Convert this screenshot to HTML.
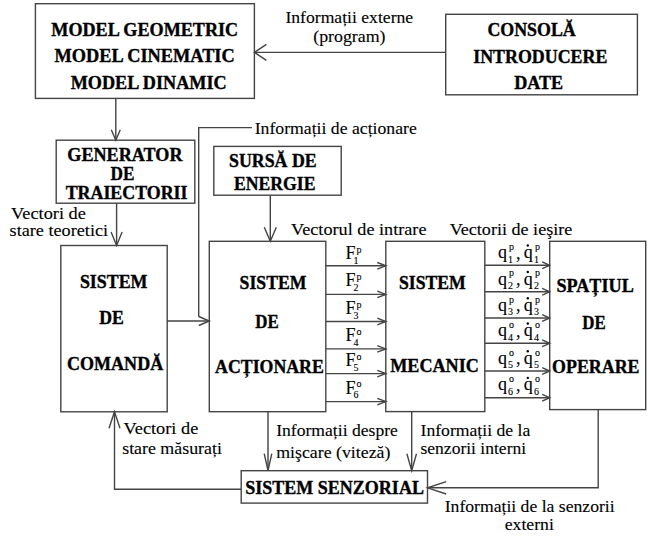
<!DOCTYPE html>
<html><head><meta charset="utf-8"><style>
html,body{margin:0;padding:0;background:#fff;}
svg{display:block;}
</style></head><body>
<svg width="649" height="538" viewBox="0 0 649 538">
<rect x="0" y="0" width="649" height="538" fill="#fff"/>
<g fill="none" stroke="#444" stroke-width="1.4" stroke-linejoin="miter" stroke-linecap="butt">
<rect x="35.4" y="3.7" width="219.00" height="94.70"/>
<rect x="445.7" y="14.3" width="191.70" height="80.50"/>
<rect x="56.2" y="140.2" width="138.60" height="63.00"/>
<rect x="213.8" y="146.4" width="127.40" height="48.80"/>
<rect x="60.8" y="245.5" width="106.40" height="166.30"/>
<rect x="209.3" y="241.3" width="116.50" height="170.40"/>
<rect x="385.8" y="241.3" width="99.00" height="170.30"/>
<rect x="549.7" y="241.3" width="96.00" height="168.30"/>
<rect x="241.2" y="470.7" width="186.30" height="32.40"/>
<line x1="445.7" y1="52.4" x2="254.4" y2="52.4"/>
<polyline points="266.4,44.4 254.4,52.4 266.4,60.4"/>
<line x1="115.8" y1="98.4" x2="115.8" y2="140.2"/>
<polyline points="111.3,129.7 115.8,140.2 120.3,129.7"/>
<line x1="116.6" y1="203.2" x2="116.6" y2="245.5"/>
<polyline points="111.1,232.0 116.6,245.5 122.1,232.0"/>
<polyline points="252,127.6 198.7,127.6 198.7,316.7"/>
<line x1="167.2" y1="321.0" x2="209.3" y2="321.0"/>
<polyline points="198.8,325.5 209.3,321.0 198.8,316.5"/>
<line x1="270.3" y1="195.2" x2="270.3" y2="241.3"/>
<polyline points="264.3,227.3 270.3,241.3 276.3,227.3"/>
<line x1="325.8" y1="265.8" x2="385.8" y2="265.8"/>
<polyline points="377.3,269.1 385.8,265.8 377.3,262.5"/>
<line x1="325.8" y1="294.4" x2="385.8" y2="294.4"/>
<polyline points="377.3,297.7 385.8,294.4 377.3,291.1"/>
<line x1="325.8" y1="321.5" x2="385.8" y2="321.5"/>
<polyline points="377.3,324.8 385.8,321.5 377.3,318.2"/>
<line x1="325.8" y1="348.9" x2="385.8" y2="348.9"/>
<polyline points="377.3,352.2 385.8,348.9 377.3,345.6"/>
<line x1="325.8" y1="373.6" x2="385.8" y2="373.6"/>
<polyline points="377.3,376.9 385.8,373.6 377.3,370.3"/>
<line x1="325.8" y1="401.6" x2="385.8" y2="401.6"/>
<polyline points="377.3,404.9 385.8,401.6 377.3,398.3"/>
<line x1="484.8" y1="265.3" x2="549.7" y2="265.3"/>
<polyline points="542.2,268.7 549.7,265.3 542.2,261.9"/>
<line x1="484.8" y1="291.8" x2="549.7" y2="291.8"/>
<polyline points="542.2,295.2 549.7,291.8 542.2,288.4"/>
<line x1="484.8" y1="318.0" x2="549.7" y2="318.0"/>
<polyline points="542.2,321.4 549.7,318.0 542.2,314.6"/>
<line x1="484.8" y1="343.3" x2="549.7" y2="343.3"/>
<polyline points="542.2,346.7 549.7,343.3 542.2,339.9"/>
<line x1="484.8" y1="371.0" x2="549.7" y2="371.0"/>
<polyline points="542.2,374.4 549.7,371.0 542.2,367.6"/>
<line x1="484.8" y1="397.7" x2="549.7" y2="397.7"/>
<polyline points="542.2,401.1 549.7,397.7 542.2,394.3"/>
<polyline points="241.2,489.3 114.5,489.3 114.5,411.8"/>
<polyline points="120.0,428.2 114.5,411.8 109.0,428.2"/>
<line x1="268" y1="411.7" x2="268" y2="470.7"/>
<polyline points="264.2,453.7 268,470.7 271.8,453.7"/>
<line x1="411.7" y1="411.6" x2="411.7" y2="470.7"/>
<polyline points="406.9,453.7 411.7,470.7 416.5,453.7"/>
<polyline points="598.2,409.6 598.2,487.8 427.5,487.8"/>
<polyline points="446.2,481.6 427.5,487.8 446.2,494.0"/>
</g>
<g font-family="Liberation Serif" fill="#000" stroke="#000" stroke-width="0.12">
<text transform="translate(51.30,35.9) scale(1.0080,1)" font-size="18" font-weight="bold" stroke-width="0.35">MODEL GEOMETRIC</text>
<text transform="translate(54.40,61.8) scale(1.0182,1)" font-size="18" font-weight="bold" stroke-width="0.35">MODEL CINEMATIC</text>
<text transform="translate(70.70,89.3) scale(1.0091,1)" font-size="18" font-weight="bold" stroke-width="0.35">MODEL DINAMIC</text>
<text transform="translate(487.40,35.9) scale(0.9931,1)" font-size="18" font-weight="bold" stroke-width="0.35">CONSOLĂ</text>
<text transform="translate(473.20,62.7) scale(0.9940,1)" font-size="18" font-weight="bold" stroke-width="0.35">INTRODUCERE</text>
<text transform="translate(514.20,89.0) scale(1.0068,1)" font-size="18" font-weight="bold" stroke-width="0.35">DATE</text>
<text transform="translate(285.40,22.6) scale(0.9967,1)" font-size="17.7" stroke-width="0.12">Informații externe</text>
<text transform="translate(313.20,41.8) scale(1.0082,1)" font-size="17.7" stroke-width="0.12">(program)</text>
<text transform="translate(254.70,133.5) scale(1.0006,1)" font-size="17.7" stroke-width="0.12">Informații de acționare</text>
<text transform="translate(67.30,160.9) scale(1.0082,1)" font-size="18" font-weight="bold" stroke-width="0.35">GENERATOR</text>
<text transform="translate(110.50,179.6) scale(0.9560,1)" font-size="18" font-weight="bold" stroke-width="0.35">DE</text>
<text transform="translate(65.70,198.6) scale(0.9927,1)" font-size="18" font-weight="bold" stroke-width="0.35">TRAIECTORII</text>
<text transform="translate(229.10,166.8) scale(0.9896,1)" font-size="18" font-weight="bold" stroke-width="0.35">SURSĂ DE</text>
<text transform="translate(234.00,190.3) scale(0.9829,1)" font-size="18" font-weight="bold" stroke-width="0.35">ENERGIE</text>
<text transform="translate(11.10,219.4) scale(1.0354,1)" font-size="17.7" stroke-width="0.12">Vectori de</text>
<text transform="translate(9.60,236.0) scale(1.0288,1)" font-size="17.7" stroke-width="0.12">stare teoretici</text>
<text transform="translate(291.10,234.7) scale(1.0291,1)" font-size="17.7" stroke-width="0.12">Vectorul de intrare</text>
<text transform="translate(449.70,234.7) scale(1.0235,1)" font-size="17.7" stroke-width="0.12">Vectorii de ieşire</text>
<text transform="translate(79.90,287.6) scale(0.9936,1)" font-size="18" font-weight="bold" stroke-width="0.35">SISTEM</text>
<text transform="translate(99.20,323.8) scale(0.9840,1)" font-size="18" font-weight="bold" stroke-width="0.35">DE</text>
<text transform="translate(67.10,369.7) scale(1.0012,1)" font-size="18" font-weight="bold" stroke-width="0.35">COMANDĂ</text>
<text transform="translate(239.60,289.3) scale(0.9833,1)" font-size="18" font-weight="bold" stroke-width="0.35">SISTEM</text>
<text transform="translate(255.30,327.5) scale(0.9360,1)" font-size="18" font-weight="bold" stroke-width="0.35">DE</text>
<text transform="translate(215.10,373.4) scale(0.9890,1)" font-size="18" font-weight="bold" stroke-width="0.35">ACȚIONARE</text>
<text transform="translate(398.90,289.3) scale(0.9833,1)" font-size="18" font-weight="bold" stroke-width="0.35">SISTEM</text>
<text transform="translate(390.20,371.5) scale(1.0081,1)" font-size="18" font-weight="bold" stroke-width="0.35">MECANIC</text>
<text transform="translate(556.40,291.7) scale(1.0094,1)" font-size="18" font-weight="bold" stroke-width="0.35">SPAȚIUL</text>
<text transform="translate(582.30,329.4) scale(0.9360,1)" font-size="18" font-weight="bold" stroke-width="0.35">DE</text>
<text transform="translate(552.10,373.4) scale(0.9943,1)" font-size="18" font-weight="bold" stroke-width="0.35">OPERARE</text>
<text transform="translate(123.60,433.6) scale(1.0340,1)" font-size="17.7" stroke-width="0.12">Vectori de</text>
<text transform="translate(122.20,454.4) scale(1.0101,1)" font-size="17.7" stroke-width="0.12">stare măsurați</text>
<text transform="translate(276.20,436.3) scale(0.9948,1)" font-size="17.7" stroke-width="0.12">Informații despre</text>
<text transform="translate(276.20,457.9) scale(1.0068,1)" font-size="17.7" stroke-width="0.12">mişcare (viteză)</text>
<text transform="translate(420.50,436.3) scale(0.9985,1)" font-size="17.7" stroke-width="0.12">Informații de la</text>
<text transform="translate(420.50,454.2) scale(0.9909,1)" font-size="17.7" stroke-width="0.12">senzorii interni</text>
<text transform="translate(245.30,493.9) scale(1.0003,1)" font-size="18" font-weight="bold" stroke-width="0.35">SISTEM SENZORIAL</text>
<text transform="translate(444.70,512.2) scale(0.9976,1)" font-size="17.7" stroke-width="0.12">Informații de la senzorii</text>
<text transform="translate(504.70,530.1) scale(1.0022,1)" font-size="17.7" stroke-width="0.12">externi</text>
<text x="345.5" y="259.0" font-size="18">F</text>
<text x="356.5" y="252.7" font-size="10">p</text>
<text x="353.5" y="263.8" font-size="10">1</text>
<text x="345.5" y="286.3" font-size="18">F</text>
<text x="356.5" y="280.0" font-size="10">p</text>
<text x="353.5" y="291.1" font-size="10">2</text>
<text x="345.5" y="313.8" font-size="18">F</text>
<text x="356.5" y="307.5" font-size="10">p</text>
<text x="353.5" y="318.6" font-size="10">3</text>
<text x="345.5" y="341.2" font-size="18">F</text>
<text x="356.5" y="334.9" font-size="10">o</text>
<text x="353.5" y="346.0" font-size="10">4</text>
<text x="345.5" y="366.2" font-size="18">F</text>
<text x="356.5" y="359.9" font-size="10">o</text>
<text x="353.5" y="371.0" font-size="10">5</text>
<text x="345.5" y="393.5" font-size="18">F</text>
<text x="356.5" y="387.2" font-size="10">o</text>
<text x="353.5" y="398.3" font-size="10">6</text>
<text x="498" y="258.0" font-size="18">q</text>
<text x="509" y="249.9" font-size="10">p</text>
<text x="508" y="262.6" font-size="10">1</text>
<text x="516" y="258.5" font-size="18">,</text>
<text x="523.8" y="258.0" font-size="18">q</text>
<circle cx="527.8" cy="245.5" r="1.2" fill="#000" stroke="none"/>
<text x="535" y="249.9" font-size="10">p</text>
<text x="534" y="262.6" font-size="10">1</text>
<text x="498" y="284.5" font-size="18">q</text>
<text x="509" y="276.4" font-size="10">p</text>
<text x="508" y="289.1" font-size="10">2</text>
<text x="516" y="285.0" font-size="18">,</text>
<text x="523.8" y="284.5" font-size="18">q</text>
<circle cx="527.8" cy="272.0" r="1.2" fill="#000" stroke="none"/>
<text x="535" y="276.4" font-size="10">p</text>
<text x="534" y="289.1" font-size="10">2</text>
<text x="498" y="310.7" font-size="18">q</text>
<text x="509" y="302.6" font-size="10">p</text>
<text x="508" y="315.3" font-size="10">3</text>
<text x="516" y="311.2" font-size="18">,</text>
<text x="523.8" y="310.7" font-size="18">q</text>
<circle cx="527.8" cy="298.2" r="1.2" fill="#000" stroke="none"/>
<text x="535" y="302.6" font-size="10">p</text>
<text x="534" y="315.3" font-size="10">3</text>
<text x="498" y="336.0" font-size="18">q</text>
<text x="509" y="327.9" font-size="10">o</text>
<text x="508" y="340.6" font-size="10">4</text>
<text x="516" y="336.5" font-size="18">,</text>
<text x="523.8" y="336.0" font-size="18">q</text>
<circle cx="527.8" cy="323.5" r="1.2" fill="#000" stroke="none"/>
<text x="535" y="327.9" font-size="10">o</text>
<text x="534" y="340.6" font-size="10">4</text>
<text x="498" y="363.7" font-size="18">q</text>
<text x="509" y="355.6" font-size="10">o</text>
<text x="508" y="368.3" font-size="10">5</text>
<text x="516" y="364.2" font-size="18">,</text>
<text x="523.8" y="363.7" font-size="18">q</text>
<circle cx="527.8" cy="351.2" r="1.2" fill="#000" stroke="none"/>
<text x="535" y="355.6" font-size="10">o</text>
<text x="534" y="368.3" font-size="10">5</text>
<text x="498" y="390.4" font-size="18">q</text>
<text x="509" y="382.3" font-size="10">o</text>
<text x="508" y="395.0" font-size="10">6</text>
<text x="516" y="390.9" font-size="18">,</text>
<text x="523.8" y="390.4" font-size="18">q</text>
<circle cx="527.8" cy="377.9" r="1.2" fill="#000" stroke="none"/>
<text x="535" y="382.3" font-size="10">o</text>
<text x="534" y="395.0" font-size="10">6</text>
</g>
</svg>
</body></html>
